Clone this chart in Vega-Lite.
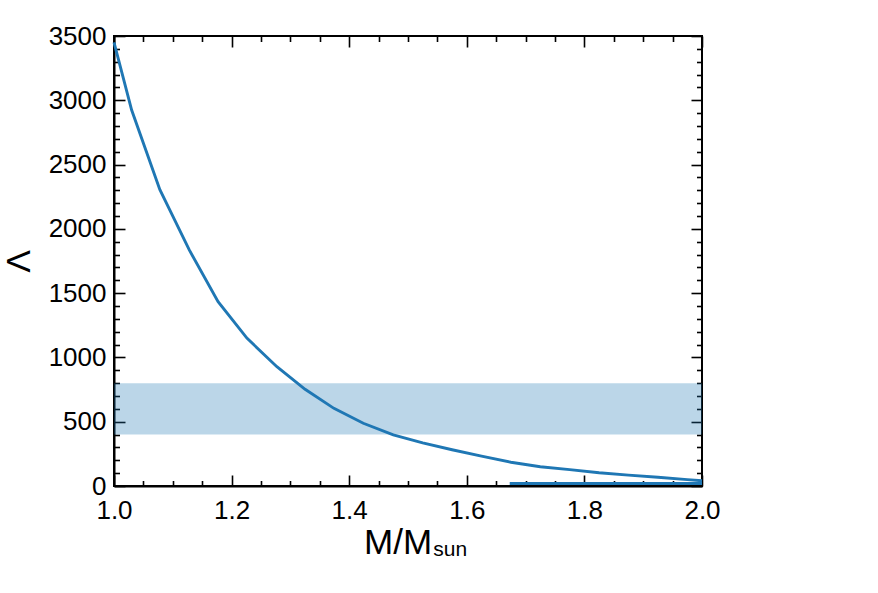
{
  "$schema": "https://vega.github.io/schema/vega-lite/v6.json",
  "width": 588,
  "height": 450,
  "autosize": {"type": "none"},
  "padding": {"left": 114, "top": 36, "right": 176, "bottom": 107},
  "background": "white",
  "config": {
    "view": {"stroke": "black", "strokeWidth": 2},
    "axis": {
      "domainColor": "black",
      "domainWidth": 2,
      "tickColor": "black",
      "tickWidth": 1.6,
      "labelFont": "Liberation Sans",
      "labelFontSize": 26,
      "labelColor": "black",
      "titleFont": "Liberation Sans",
      "titleColor": "black",
      "grid": false
    }
  },
  "datasets": {
    "band": [{"x1": 1.0, "x2": 2.0, "lo": 400, "hi": 800}],
    "curve": [
      {"m": 1.000, "lam": 3450},
      {"m": 1.030, "lam": 2924},
      {"m": 1.078, "lam": 2305},
      {"m": 1.128, "lam": 1836},
      {"m": 1.177, "lam": 1433},
      {"m": 1.226, "lam": 1150},
      {"m": 1.277, "lam": 928},
      {"m": 1.325, "lam": 752},
      {"m": 1.374, "lam": 604},
      {"m": 1.424, "lam": 488},
      {"m": 1.475, "lam": 397},
      {"m": 1.525, "lam": 335},
      {"m": 1.575, "lam": 282},
      {"m": 1.625, "lam": 232},
      {"m": 1.675, "lam": 185},
      {"m": 1.725, "lam": 150},
      {"m": 1.775, "lam": 127},
      {"m": 1.825, "lam": 103},
      {"m": 1.875, "lam": 85},
      {"m": 1.925, "lam": 68},
      {"m": 1.975, "lam": 50},
      {"m": 2.000, "lam": 41}
    ],
    "flat": [
      {"m": 1.673, "lam": 20},
      {"m": 2.0, "lam": 20}
    ],
    "title1": [{"m": 1.541, "lam": -529, "t": "M/M"}],
    "title2": [{"m": 1.543, "lam": -545, "t": "sun"}]
  },
  "layer": [
    {
      "data": {"name": "band"},
      "mark": {"type": "rect", "color": "#1f77b4", "opacity": 0.3},
      "encoding": {
        "x": {
          "field": "x1", "type": "quantitative",
          "scale": {"domain": [1, 2], "nice": false, "zero": false},
          "axis": {"orient": "bottom", "title": null, "values": [1.0, 1.2, 1.4, 1.6, 1.8, 2.0], "format": ".1f", "ticks": false, "labelPadding": 11, "labelFlush": false}
        },
        "x2": {"field": "x2"},
        "y": {
          "field": "lo", "type": "quantitative",
          "scale": {"domain": [0, 3500], "nice": false, "zero": false},
          "axis": {"orient": "left", "title": "Λ", "titleFontSize": 34, "titleFontWeight": "normal", "titlePadding": 12, "values": [0, 500, 1000, 1500, 2000, 2500, 3000, 3500], "format": "d", "ticks": false, "labelPadding": 8}
        },
        "y2": {"field": "hi"}
      }
    },
    {
      "data": {"name": "curve"},
      "mark": {"type": "line", "color": "#1f77b4", "strokeWidth": 2.9},
      "encoding": {
        "x": {
          "field": "m", "type": "quantitative",
          "axis": {"orient": "bottom", "title": null, "labels": false, "domain": false, "tickSize": 11, "offset": -11, "values": [1.0, 1.2, 1.4, 1.6, 1.8, 2.0]}
        },
        "y": {
          "field": "lam", "type": "quantitative",
          "axis": {"orient": "left", "title": null, "labels": false, "domain": false, "tickSize": 11, "offset": -11, "values": [0, 500, 1000, 1500, 2000, 2500, 3000, 3500]}
        }
      }
    },
    {
      "data": {"name": "flat"},
      "mark": {"type": "line", "color": "#1f77b4", "strokeWidth": 2.9},
      "encoding": {
        "x": {
          "field": "m", "type": "quantitative",
          "axis": {"orient": "bottom", "title": null, "labels": false, "domain": false, "tickSize": 5.5, "offset": -5.5, "values": [1.05, 1.1, 1.15, 1.25, 1.3, 1.35, 1.45, 1.5, 1.55, 1.65, 1.7, 1.75, 1.85, 1.9, 1.95]}
        },
        "y": {
          "field": "lam", "type": "quantitative",
          "axis": {"orient": "left", "title": null, "labels": false, "domain": false, "tickSize": 5.5, "offset": -5.5, "values": [100, 200, 300, 400, 600, 700, 800, 900, 1100, 1200, 1300, 1400, 1600, 1700, 1800, 1900, 2100, 2200, 2300, 2400, 2600, 2700, 2800, 2900, 3100, 3200, 3300, 3400]}
        }
      }
    },
    {
      "data": {"name": "title1"},
      "mark": {"type": "text", "font": "Liberation Sans", "fontSize": 35, "align": "right", "baseline": "alphabetic", "color": "black"},
      "encoding": {
        "text": {"field": "t"},
        "x": {
          "field": "m", "type": "quantitative",
          "axis": {"orient": "top", "title": null, "labels": false, "domain": false, "tickSize": 11, "offset": -11, "values": [1.0, 1.2, 1.4, 1.6, 1.8, 2.0]}
        },
        "y": {
          "field": "lam", "type": "quantitative",
          "axis": {"orient": "right", "title": null, "labels": false, "domain": false, "tickSize": 11, "offset": -11, "values": [0, 500, 1000, 1500, 2000, 2500, 3000, 3500]}
        }
      }
    },
    {
      "data": {"name": "title2"},
      "mark": {"type": "text", "font": "Liberation Sans", "fontSize": 21, "align": "left", "baseline": "alphabetic", "color": "black"},
      "encoding": {
        "text": {"field": "t"},
        "x": {
          "field": "m", "type": "quantitative",
          "axis": {"orient": "top", "title": null, "labels": false, "domain": false, "tickSize": 5.5, "offset": -5.5, "values": [1.05, 1.1, 1.15, 1.25, 1.3, 1.35, 1.45, 1.5, 1.55, 1.65, 1.7, 1.75, 1.85, 1.9, 1.95]}
        },
        "y": {
          "field": "lam", "type": "quantitative",
          "axis": {"orient": "right", "title": null, "labels": false, "domain": false, "tickSize": 5.5, "offset": -5.5, "values": [100, 200, 300, 400, 600, 700, 800, 900, 1100, 1200, 1300, 1400, 1600, 1700, 1800, 1900, 2100, 2200, 2300, 2400, 2600, 2700, 2800, 2900, 3100, 3200, 3300, 3400]}
        }
      }
    }
  ],
  "resolve": {"axis": {"x": "independent", "y": "independent"}}
}
